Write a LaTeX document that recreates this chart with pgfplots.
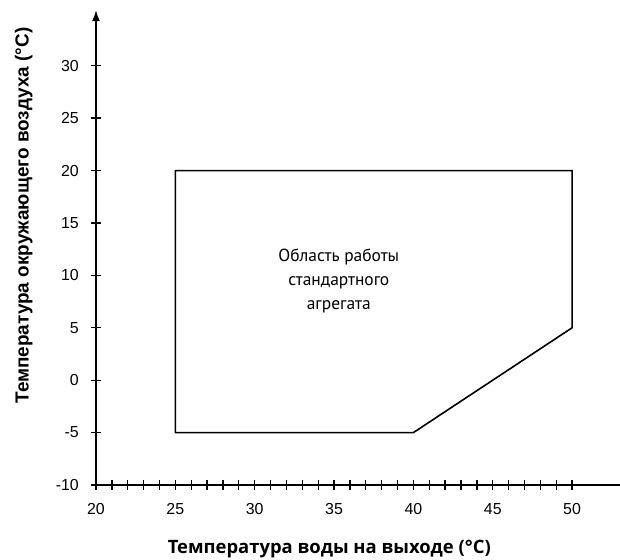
\documentclass[border=0pt]{standalone}
\usepackage{fontspec}
\setmainfont{Liberation Sans}
\newfontfamily\ptsans{PT Sans}
\newfontfamily\osans{Open Sans}
\usepackage{pgfplots}
\pgfplotsset{compat=1.18}
\usetikzlibrary{arrows.meta}
\begin{document}
\begin{tikzpicture}[x=1bp,y=1bp]
\useasboundingbox (0,0) rectangle (620,560);
\begin{axis}[
  at={(96bp,75bp)}, anchor=south west,
  scale only axis,
  width=523.7bp, height=474.8bp,
  xmin=20, xmax=53, ymin=-10, ymax=35.3,
  axis lines=left,
  axis line style={line width=1.6bp},
  x axis line style={-},
  y axis line style={-{Latex[length=11bp,width=8bp]}},
  xtick={20,25,...,50},
  minor xtick={21,...,50},
  ytick={-10,-5,...,30},
  tick align=center,
  major tick length=10bp, minor tick length=10bp,
  tick style={line width=1.3bp, black},
  /pgf/number format/assume math mode=true,
  ticklabel style={font=\fontsize{16}{18}\selectfont, inner sep=0pt},
  xticklabel style={anchor=center, yshift=-19bp},
  yticklabel style={anchor=east, xshift=-12bp},
  clip=false,
]
\addplot[black, line width=1.6bp, mark=none] coordinates {
  (25,-5) (25,20) (50,20) (50,5) (40,-5) (25,-5)
} -- cycle;
\node[align=center, font=\ptsans\fontsize{17.5}{24}\selectfont] at (axis cs:35.3,9.5)
  {Область работы\\стандартного\\агрегата};
\node[font=\osans\bfseries\fontsize{18.5}{20}\selectfont, anchor=center] at (axis cs:34.7,-16.1)
  {Температура воды на выходе (°C)};
\node[font=\bfseries\fontsize{19}{21}\selectfont, anchor=center, rotate=90] at (axis cs:15.45,15.7)
  {Температура окружающего воздуха (°C)};
\end{axis}
\end{tikzpicture}
\end{document}
